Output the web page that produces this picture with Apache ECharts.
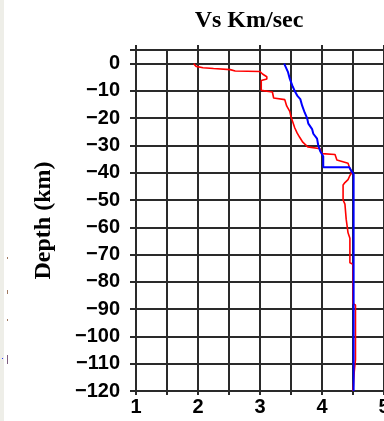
<!DOCTYPE html>
<html>
<head>
<meta charset="utf-8">
<script src="https://cdn.jsdelivr.net/npm/echarts@6/dist/echarts.min.js"></script>
<style>
html,body{margin:0;padding:0;background:#fff;}
#chart{width:384px;height:421px;}
</style>
</head>
<body>
<div id="chart"></div>
<script>
// Vs (km/s) and depth (km) for the two velocity models
var redVs    = [1.93, 1.97, 2.08, 2.25, 2.52, 2.60, 3.00, 3.04, 3.11, 3.11, 3.02, 3.02, 3.20, 3.22, 3.40, 3.43, 3.48, 3.50, 3.53, 3.56, 3.60, 3.64, 3.69, 3.77, 3.97, 4.00, 4.21, 4.24, 4.42, 4.45, 4.48, 4.45, 4.42, 4.37, 4.34, 4.34, 4.37, 4.39, 4.42, 4.45, 4.45, 4.50, 4.50, 4.54, 4.54, 4.52, 4.50];
var redDepth = [0, -1, -1.5, -1.8, -2.2, -2.7, -2.9, -3.8, -4.8, -5.6, -6.2, -9.8, -10.4, -12.6, -13.2, -15.5, -17.5, -19.5, -21.5, -23.5, -25.5, -27, -28.8, -30.5, -31.2, -33, -33.3, -35.3, -36.5, -38.5, -40, -41, -42.5, -43.6, -44.5, -50, -51.5, -57, -62, -64, -73, -73.5, -88, -88.5, -108.5, -113, -120];
var blueVs    = [3.39, 3.45, 3.48, 3.52, 3.56, 3.60, 3.65, 3.68, 3.72, 3.76, 3.78, 3.84, 3.86, 3.92, 3.94, 3.97, 4.02, 4.02, 4.44, 4.48, 4.51, 4.51];
var blueDepth = [0, -3, -5.5, -8, -10, -11.7, -13, -15.4, -17.9, -20, -22, -24, -25.7, -27.5, -30, -32, -34, -38, -38, -39.5, -40.5, -120];
var xTickLabels = [1, 2, 3, 4, 5];
var yTickLabels = [0, -10, -20, -30, -40, -50, -60, -70, -80, -90, -100, -110, -120];

function pairs(xs, ys){ return xs.map(function(v,i){ return [v, ys[i]]; }); }

var gridColor = '#2a2a2a';
var chart = echarts.init(document.getElementById('chart'), null, {renderer:'canvas'});
chart.setOption({
  animation:false,
  backgroundColor:'#ffffff',
  title:{
    text:'Vs Km/sec', left:244, top:4, textAlign:'center',
    textStyle:{fontFamily:'Liberation Serif', fontWeight:'bold', fontSize:24, color:'#000'}
  },
  grid:{left:136, right:0, top:50, bottom:30, containLabel:false, outerBoundsMode:'none'},
  xAxis:[{
    type:'value', min:1, max:5, interval:0.5, position:'bottom',
    axisLine:{show:true, onZero:false, lineStyle:{color:gridColor, width:2}},
    axisTick:{show:true, length:4, lineStyle:{color:gridColor, width:2}},
    splitLine:{show:true, lineStyle:{color:gridColor, width:2}},
    axisLabel:{
      margin:6, fontFamily:'Liberation Sans', fontWeight:'bold', fontSize:20, color:'#000',
      showMinLabel:true, showMaxLabel:true, hideOverlap:false,
      formatter:function(v){ return xTickLabels.indexOf(v) >= 0 ? String(v) : ''; }
    }
  },{
    type:'value', min:1, max:5, interval:1, position:'top',
    axisLine:{show:true, onZero:false, lineStyle:{color:gridColor, width:2}},
    axisTick:{show:true, length:5, lineStyle:{color:gridColor, width:2}},
    splitLine:{show:false}, axisLabel:{show:false}
  }],
  yAxis:{
    type:'value', min:-120, max:5, interval:10,
    axisLine:{show:true, onZero:false, lineStyle:{color:gridColor, width:2}},
    axisTick:{show:true, length:6, lineStyle:{color:gridColor, width:2}},
    splitLine:{show:true, lineStyle:{color:gridColor, width:2}},
    name:'Depth (km)', nameLocation:'middle', nameGap:80, nameRotate:90,
    nameTextStyle:{fontFamily:'Liberation Serif', fontWeight:'bold', fontSize:24, color:'#000'},
    axisLabel:{
      margin:16, fontFamily:'Liberation Sans', fontWeight:'bold', fontSize:20, color:'#000',
      formatter:function(v){
        if (yTickLabels.indexOf(v) < 0) return '';
        return v === 0 ? '0' : '\u2212' + Math.abs(v);
      }
    }
  },
  series:[
    {type:'line', data:pairs(redVs, redDepth), symbol:'none', z:3,
     lineStyle:{color:'#ff0000', width:1.6}},
    {type:'line', data:pairs(blueVs, blueDepth), symbol:'none', z:4,
     lineStyle:{color:'#0000ff', width:2}}
  ],
  graphic:[
    {type:'rect', shape:{x:0,y:0,width:4,height:421}, style:{fill:'#eeeee8'}, silent:true},
    {type:'rect', shape:{x:7,y:257,width:1,height:2}, style:{fill:'#a07a60'}, silent:true},
    {type:'rect', shape:{x:7,y:290,width:1,height:4}, style:{fill:'#a07a60'}, silent:true},
    {type:'rect', shape:{x:7,y:319,width:1,height:2}, style:{fill:'#a07a60'}, silent:true},
    {type:'rect', shape:{x:7,y:355,width:1,height:9}, style:{fill:'#806080'}, silent:true},
    {type:'rect', shape:{x:2,y:358,width:1,height:1}, style:{fill:'#3030ff'}, silent:true}
  ]
});
</script>
</body>
</html>
